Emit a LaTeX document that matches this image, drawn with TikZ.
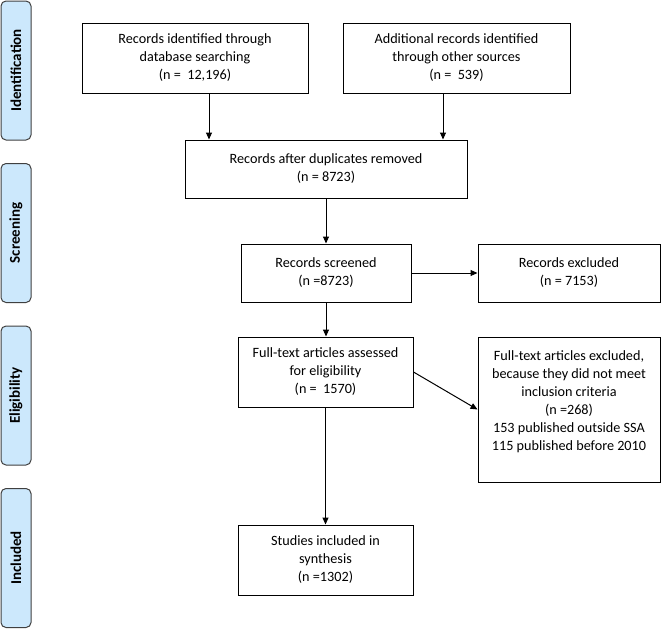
\documentclass[tikz,border=0pt]{standalone}
\usepackage{fontspec}
\setmainfont{Carlito}
\usetikzlibrary{arrows.meta}
\definecolor{phaseblue}{RGB}{204,232,252}
\begin{document}
\begin{tikzpicture}[x=1pt, y=-1pt, font=\fontsize{14.2}{18}\selectfont,
    flowbox/.style={draw, line width=1pt, align=center, inner sep=2pt},
    phase/.style={draw=black!75, fill=phaseblue, rounded corners=5pt, line width=1pt, rotate=90, minimum width=139pt, minimum height=30pt, inner sep=0pt, font=\fontsize{15}{17}\selectfont\bfseries},
    arr/.style={-{Triangle[length=7pt, width=6pt]}, line width=1pt}]
    \useasboundingbox (0,0) rectangle (661,630);
    % phase labels
    \node[phase] (identification) at (16, 70.5) {Identification};
    \node[phase] (screening) at (16, 233) {Screening};
    \node[phase] (eligibility) at (16, 395.5) {Eligibility};
    \node[phase] (included) at (16, 558) {Included};
    % boxes
    \node[flowbox, minimum width=226pt, minimum height=70pt] (database) at (195, 58) {Records identified through\\database searching\\(n = \ 12,196)};
    \node[flowbox, minimum width=227pt, minimum height=70pt] (other) at (456.5, 58) {Additional records identified\\through other sources\\(n = \ 539)};
    \node[flowbox, minimum width=282pt, minimum height=58pt] (duplicates) at (326, 169) {Records after duplicates removed\\(n = 8723)};
    \node[flowbox, minimum width=170pt, minimum height=58pt] (screened) at (326, 273) {Records screened\\(n =8723)};
    \node[flowbox, minimum width=182pt, minimum height=58pt] (excluded) at (569, 273) {Records excluded\\(n = 7153)};
    \node[flowbox, minimum width=175pt, minimum height=70pt] (fulltext) at (325.5, 372) {Full-text articles assessed\\for eligibility\\(n = \ 1570)};
    \node[flowbox, minimum width=182pt, minimum height=145pt] (ftexcluded) at (569, 409.5) {Full-text articles excluded,\\because they did not meet\\inclusion criteria\\(n =268)\\153 published outside SSA\\115 published before 2010\\~};
    \node[flowbox, minimum width=175pt, minimum height=70pt] (synthesis) at (325.5, 560) {Studies included in\\synthesis\\(n =1302)};
    % arrows
    \draw[arr] ([xshift=14pt]database.south) -- ([xshift=14pt]database.south |- duplicates.north);
    \draw[arr] ([xshift=-13.5pt]other.south) -- ([xshift=-13.5pt]other.south |- duplicates.north);
    \draw[arr] (duplicates.south) -- (screened.north);
    \draw[arr] (screened.east) -- (excluded.west);
    \draw[arr] (screened.south) -- (screened.south |- fulltext.north);
    \draw[arr] (fulltext.east) -- (ftexcluded.west);
    \draw[arr] (fulltext.south) -- (synthesis.north);
\end{tikzpicture}
\end{document}
